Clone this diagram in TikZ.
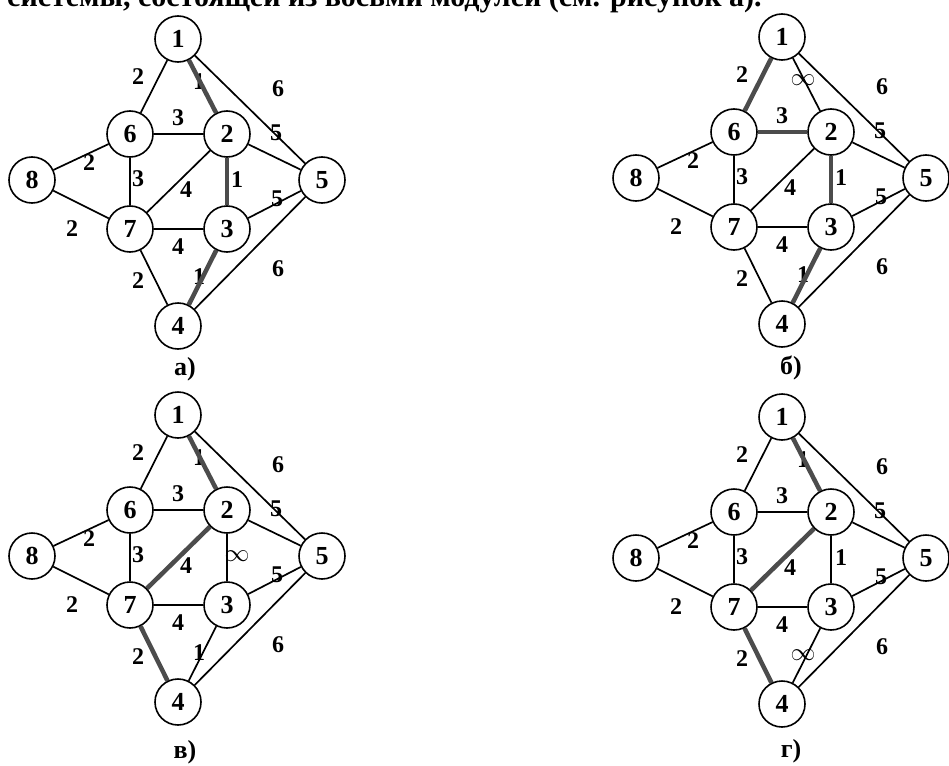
\documentclass[tikz,border=0pt]{standalone}
\usepackage{fontspec}
\setmainfont{Liberation Serif}
\usetikzlibrary{arrows.meta}

% one network of eight modules, node 1 at (#2,#3)
% #4, #5, #6 = weights of links 1-2, 2-3, 3-4
\newcommand{\modnet}[6]{%
\begin{scope}[shift={(#2,#3)}]
\node[mod] (#1-1) at (0,0) {1};
\node[mod] (#1-6) at (-48,95) {6};
\node[mod] (#1-2) at (49,95) {2};
\node[mod] (#1-8) at (-146,141) {8};
\node[mod] (#1-5) at (144,141) {5};
\node[mod] (#1-7) at (-48,190) {7};
\node[mod] (#1-3) at (49,190) {3};
\node[mod] (#1-4) at (0,287) {4};
\foreach \a/\b in {1/6,1/2,1/5,6/2,2/5,8/6,6/7,2/7,2/3,3/5,8/7,7/3,7/4,3/4,5/4}
  \draw[link] (#1-\a) -- (#1-\b);
% weights
\node[wt] at (-40,38) {2};
\node[wt] at (21,43) {#4};
\node[wt] at (100,50) {6};
\node[wt] at (0,79) {3};
\node[wt] at (98,94) {5};
\node[wt] at (-89,124) {2};
\node[wt] at (-40,140) {3};
\node[wt] at (8,151) {4};
\node[wt] at (59,141) {#5};
\node[wt] at (99,160) {5};
\node[wt] at (-106,190) {2};
\node[wt] at (0,208) {4};
\node[wt] at (-40,242) {2};
\node[wt] at (21,238) {#6};
\node[wt] at (100,230) {6};
\end{scope}}

\begin{document}
\begin{tikzpicture}[x=1pt, y=-1pt,
  mod/.style={circle, draw, line width=1.6pt, fill=white, minimum size=46pt, inner sep=0pt, font=\bfseries\fontsize{26}{28}\selectfont},
  link/.style={line width=1.7pt},
  best/.style={line width=4.5pt, draw=black!70},
  wt/.style={inner sep=0pt, font=\bfseries\fontsize{24}{26}\selectfont},
  sublabel/.style={inner sep=0pt, font=\bfseries\fontsize{26}{28}\selectfont}]
\useasboundingbox (0,0) rectangle (949,765);
\clip (0,0) rectangle (949,765);
\fill[white] (0,0) rectangle (949,765);
% cut-off line of text above
\node[anchor=base west, inner sep=0pt, font=\bfseries\fontsize{30}{33}\selectfont] (head) at (7,7) {системы, состоящей из восьми модулей (см. рисунок а).};

% a)
\modnet{a}{178}{39}{1}{1}{1}
\draw[best] (a-1) -- (a-2);
\draw[best] (a-2) -- (a-3);
\draw[best] (a-3) -- (a-4);
\node[sublabel] (capa) at (185,369) {а)};

% b)
\modnet{b}{782}{37}{$\infty$}{1}{1}
\draw[best] (b-1) -- (b-6);
\draw[best] (b-6) -- (b-2);
\draw[best] (b-2) -- (b-3);
\draw[best] (b-3) -- (b-4);
\node[sublabel] (capb) at (791,368) {б)};

% v)
\modnet{v}{178}{415}{1}{$\infty$}{1}
\draw[best] (v-1) -- (v-2);
\draw[best] (v-2) -- (v-7);
\draw[best] (v-7) -- (v-4);
\node[sublabel] (capv) at (185,752) {в)};

% g)
\modnet{g}{782}{417}{1}{1}{$\infty$}
\draw[best] (g-1) -- (g-2);
\draw[best] (g-2) -- (g-7);
\draw[best] (g-7) -- (g-4);
\node[sublabel] (capg) at (791,751) {г)};
\end{tikzpicture}
\end{document}
